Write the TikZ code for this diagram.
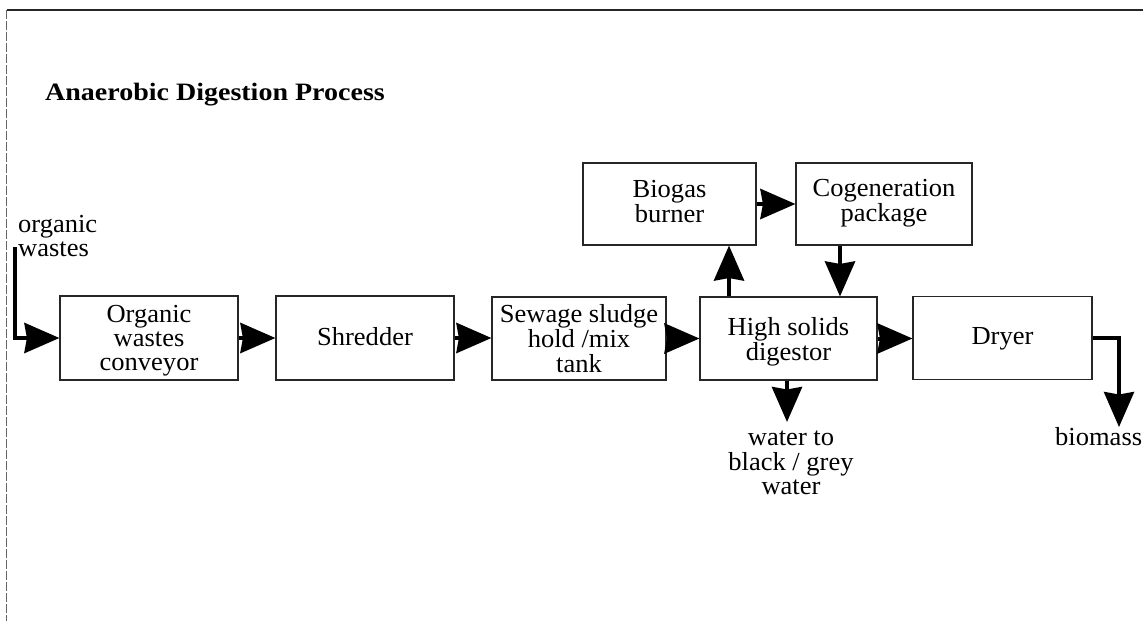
\documentclass[tikz,border=0pt]{standalone}
\usepackage{fontspec}
\setmainfont{Liberation Serif}[FakeStretch=1.02]
\newfontfamily\titlefont{Liberation Serif}[FakeStretch=1.12]
\usetikzlibrary{arrows.meta}
% #1 = height of first baseline above the box centre
\newcommand{\boxlines}[2]{\raisebox{#1}[0pt][0pt]{\begin{tabular}[t]{@{}c@{}}#2\end{tabular}}}
\newcommand{\lbllines}[2]{\begin{tabular}[t]{@{}#1@{}}#2\end{tabular}}
\tikzset{
  procbox/.style={draw=black!85, line width=1.1pt, inner sep=0pt,
    font=\fontsize{26}{24}\selectfont, text=black},
  lbl/.style={inner sep=0pt, font=\fontsize{26}{24}\selectfont, text=black},
  flow/.style={line width=4pt, line join=miter, draw=black,
    -{Stealth[length=35pt,width=30pt,inset=2.5pt]}},
}
\begin{document}
\begin{tikzpicture}[x=1pt,y=-1pt]
\useasboundingbox (0,0) rectangle (1143,621);
\clip (0,0) rectangle (1143,621);
% frame lines
\draw[line width=1.5pt, black!85] (7,10) -- (1143,10);
\draw[line width=0.8pt, black!60, dash pattern=on 9pt off 2pt] (6,10) -- (6,621);
% title
\node[anchor=base west, inner sep=0pt, font=\titlefont\bfseries\fontsize{25}{28}\selectfont] (title) at (45,100) {Anaerobic Digestion Process};
% boxes
\node[procbox, minimum width=178pt, minimum height=84pt] (conv) at (149,338) {\boxlines{16pt}{Organic\\wastes\\conveyor}};
\node[procbox, minimum width=178pt, minimum height=84pt] (shred) at (365,338) {\boxlines{-7.5pt}{Shredder}};
\node[procbox, minimum width=174pt, minimum height=83pt] (sew) at (579,338.5) {\boxlines{16.5pt}{Sewage sludge\\hold /mix\\tank}};
\node[procbox, minimum width=177pt, minimum height=83pt] (dig) at (788.5,338.5) {\boxlines{3.5pt}{High solids\\digestor}};
\node[procbox, minimum width=179pt, minimum height=83pt] (dry) at (1002.5,338) {\boxlines{-6pt}{Dryer}};
\node[procbox, minimum width=173pt, minimum height=82pt] (bio) at (669.5,204) {\boxlines{7pt}{Biogas\\burner}};
\node[procbox, minimum width=176pt, minimum height=82pt] (cogen) at (884,204) {\boxlines{8pt}{Cogeneration\\package}};
% labels
\node[lbl, anchor=base west] (inlbl) at (18,232) {\lbllines{l}{organic\\wastes}};
\node[lbl, anchor=base] (wlbl) at (791,445) {\lbllines{c}{water to\\black / grey\\water}};
\node[lbl, anchor=base west] (biolbl) at (1055,445) {biomass};
% helper coordinates
\coordinate (inx) at (15,247);
\coordinate (upx) at (729,0);
\coordinate (dnx) at (840,0);
\coordinate (wx) at (787,0);
\coordinate (wtip) at (787,422);
\coordinate (btip) at (1119,427);
% connectors
\draw[flow] (inx) |- (conv.west);
\draw[flow] (conv.east) -- (conv.east -| shred.west);
\draw[flow] (shred.east) -- (shred.east -| sew.west);
\draw[flow] (sew.east) -- (sew.east -| dig.west);
\draw[flow] (dig.east) -- (dig.east -| dry.west);
\draw[flow] (upx |- dig.north) -- (upx |- bio.south);
\draw[flow] (bio.east) -- (bio.east -| cogen.west);
\draw[flow] (dnx |- cogen.south) -- (dnx |- dig.north);
\draw[flow] (wx |- dig.south) -- (wtip);
\draw[flow, line width=3.5pt] (dry.east) -| (btip);
\end{tikzpicture}
\end{document}
